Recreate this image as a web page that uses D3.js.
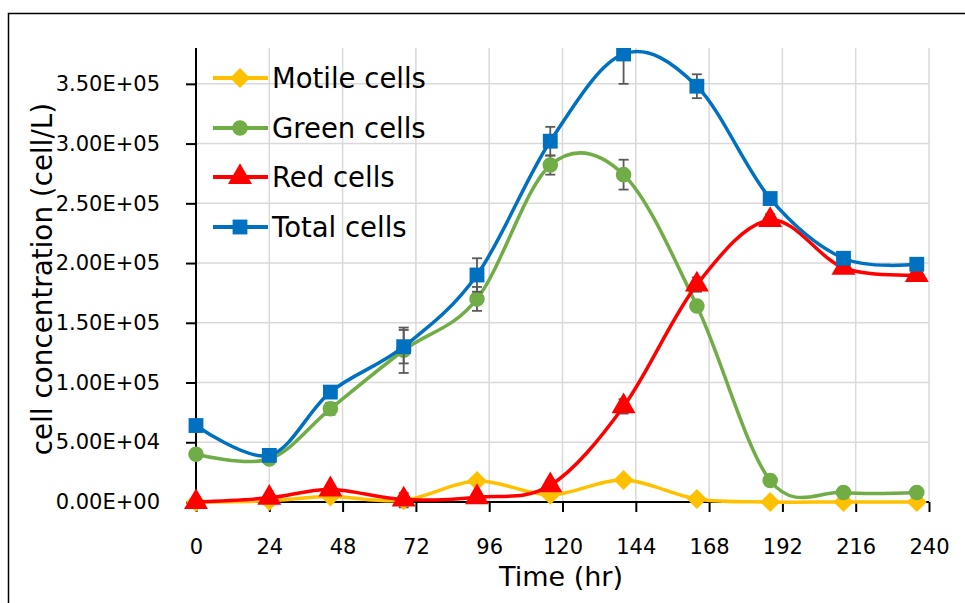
<!DOCTYPE html>
<html>
<head>
<meta charset="utf-8">
<script src="https://cdn.jsdelivr.net/npm/d3@7"></script>
<style>
  body { margin: 0; background: #fff; }
  svg text { font-family: "DejaVu Sans", sans-serif; fill: #000; }
</style>
</head>
<body>
<script>
// sampling times (hr)
var times = [0, 24, 44, 68, 92, 116, 140, 164, 188, 212, 236];

// cell counts (cell/L)
var motile = [0, 1000, 4500, 1500, 17500, 6000, 18400, 2500, 0, 0, 0];
var green  = [40000, 36000, 78000, 127000, 170000, 282000, 274000, 164000, 18000, 8000, 8000];
var red    = [0, 3500, 10500, 2000, 4000, 14000, 80000, 182000, 236000, 196000, 190000];
var total  = [64000, 39000, 92000, 130000, 190000, 302000, 375000, 348000, 254000, 204000, 199000];

// standard deviations
var motileErr = [0, 0, 0, 6000, 0, 0, 0, 0, 0, 0, 0];
var greenErr  = [0, 0, 5000, 19000, 10000, 8000, 12500, 0, 0, 0, 0];
var redErr    = [0, 0, 0, 0, 0, 4000, 6000, 6000, 5000, 0, 0];
var totalErr  = [0, 0, 0, 14000, 14000, 12000, 25000, 10000, 0, 0, 0];

var xTicks = [0, 24, 48, 72, 96, 120, 144, 168, 192, 216, 240];
var yTicks = [0, 50000, 100000, 150000, 200000, 250000, 300000, 350000];

var names = ["Motile cells", "Green cells", "Red cells", "Total cells"];

var width = 965, height = 603;
var pL = 196, pR = 929, pT = 48, pB = 502;

var svg = d3.select("body").append("svg")
    .attr("width", width)
    .attr("height", height);

// outer frame
svg.append("rect")
    .attr("x", 8.5).attr("y", 13.5)
    .attr("width", 1000).attr("height", 700)
    .attr("fill", "none")
    .attr("stroke", "#000")
    .attr("stroke-width", 1.5);

var x = d3.scaleLinear().domain([0, 240]).range([pL, pR]);
var y = d3.scaleLinear().domain([0, 380000]).range([pB, pT]);

svg.append("clipPath").attr("id", "plot")
  .append("rect")
    .attr("x", pL - 14).attr("y", pT)
    .attr("width", pR - pL + 28).attr("height", pB - pT + 20);

// gridlines
svg.append("g").selectAll("line")
    .data(xTicks.slice(1))
    .enter().append("line")
    .attr("x1", function (d) { return x(d); })
    .attr("x2", function (d) { return x(d); })
    .attr("y1", pT).attr("y2", pB)
    .attr("stroke", "#d9d9d9").attr("stroke-width", 1.5);

svg.append("g").selectAll("line")
    .data(yTicks.slice(1))
    .enter().append("line")
    .attr("x1", pL).attr("x2", pR)
    .attr("y1", function (d) { return y(d); })
    .attr("y2", function (d) { return y(d); })
    .attr("stroke", "#d9d9d9").attr("stroke-width", 1.5);

// axes
var xAxis = d3.axisBottom(x).tickValues(xTicks).tickSize(10).tickPadding(27)
    .tickFormat(d3.format("d"));
var yAxis = d3.axisLeft(y).tickValues(yTicks).tickSize(10).tickPadding(26)
    .tickFormat(function (d) {
        var e = d === 0 ? 0 : Math.floor(Math.log10(d));
        var m = d / Math.pow(10, e);
        return m.toFixed(2) + "E+" + (e < 10 ? "0" : "") + e;
    });

var gx = svg.append("g")
    .attr("transform", "translate(0," + pB + ")")
    .call(xAxis);
var gy = svg.append("g")
    .attr("transform", "translate(" + pL + ",0)")
    .call(yAxis);

[gx, gy].forEach(function (g) {
    g.select(".domain").attr("stroke", "#000").attr("stroke-width", 2);
    g.selectAll(".tick line").attr("stroke", "#000").attr("stroke-width", 2);
    g.selectAll(".tick text").style("font-size", "21px").attr("fill", "#000")
        .style("font-family", "'DejaVu Sans', sans-serif");
});
gy.select(".domain").attr("d", "M0," + pT + "V" + pB);
gx.select(".domain").attr("d", "M" + pL + ",0H" + pR);

// axis titles
svg.append("text")
    .attr("x", 561).attr("y", 586)
    .attr("text-anchor", "middle")
    .style("font-size", "27px")
    .text("Time (hr)");

svg.append("text")
    .attr("transform", "translate(52,279) rotate(-90)")
    .attr("text-anchor", "middle")
    .style("font-size", "27.8px")
    .text("cell concentration (cell/L)");

// series
var series = [
    { name: names[0], vals: motile, err: motileErr, color: "#FFC000", shape: d3.symbolSquare,   size: 200, rot: 45 },
    { name: names[1], vals: green,  err: greenErr,  color: "#70AD47", shape: d3.symbolCircle,   size: 190, rot: 0 },
    { name: names[2], vals: red,    err: redErr,    color: "#FF0000", shape: d3.symbolTriangle, size: 250, rot: 0 },
    { name: names[3], vals: total,  err: totalErr,  color: "#0070C0", shape: d3.symbolSquare,   size: 220, rot: 0 }
];

var line = d3.line()
    .x(function (d) { return x(d.t); })
    .y(function (d) { return y(d.v); })
    .curve(d3.curveCardinal.tension(0));

var plot = svg.append("g").attr("clip-path", "url(#plot)");

series.forEach(function (s) {
    var pts = times.map(function (t, i) { return { t: t, v: s.vals[i], e: s.err[i] }; });
    var g = plot.append("g");

    g.append("path")
        .datum(pts)
        .attr("d", line)
        .attr("fill", "none")
        .attr("stroke", s.color)
        .attr("stroke-width", 3.5);

    var eb = g.selectAll("g.err")
        .data(pts.filter(function (d) { return d.e > 0; }))
        .enter().append("g")
        .attr("class", "err")
        .attr("stroke", "#595959").attr("stroke-width", 1.8);
    eb.append("line")
        .attr("x1", function (d) { return x(d.t); })
        .attr("x2", function (d) { return x(d.t); })
        .attr("y1", function (d) { return y(d.v - d.e); })
        .attr("y2", function (d) { return y(d.v + d.e); });
    [-1, 1].forEach(function (k) {
        eb.append("line")
            .attr("x1", function (d) { return x(d.t) - 5; })
            .attr("x2", function (d) { return x(d.t) + 5; })
            .attr("y1", function (d) { return y(d.v + k * d.e); })
            .attr("y2", function (d) { return y(d.v + k * d.e); });
    });

    g.selectAll("path.m")
        .data(pts)
        .enter().append("path")
        .attr("class", "m")
        .attr("transform", function (d) {
            return "translate(" + x(d.t) + "," + y(d.v) + ") rotate(" + s.rot + ")";
        })
        .attr("d", d3.symbol().type(s.shape).size(s.size))
        .attr("fill", s.color);
});

// legend
var leg = svg.append("g");
var legY = [78, 128, 177, 227];
series.forEach(function (s, i) {
    leg.append("line")
        .attr("x1", 213).attr("x2", 268)
        .attr("y1", legY[i]).attr("y2", legY[i])
        .attr("stroke", s.color).attr("stroke-width", 4);
    leg.append("path")
        .attr("transform", "translate(240," + legY[i] + ") rotate(" + s.rot + ")")
        .attr("d", d3.symbol().type(s.shape).size(s.size))
        .attr("fill", s.color);
    leg.append("text")
        .attr("x", 272).attr("y", legY[i])
        .attr("dy", "0.36em")
        .style("font-size", "27.5px")
        .text(s.name);
});
</script>
</body>
</html>
